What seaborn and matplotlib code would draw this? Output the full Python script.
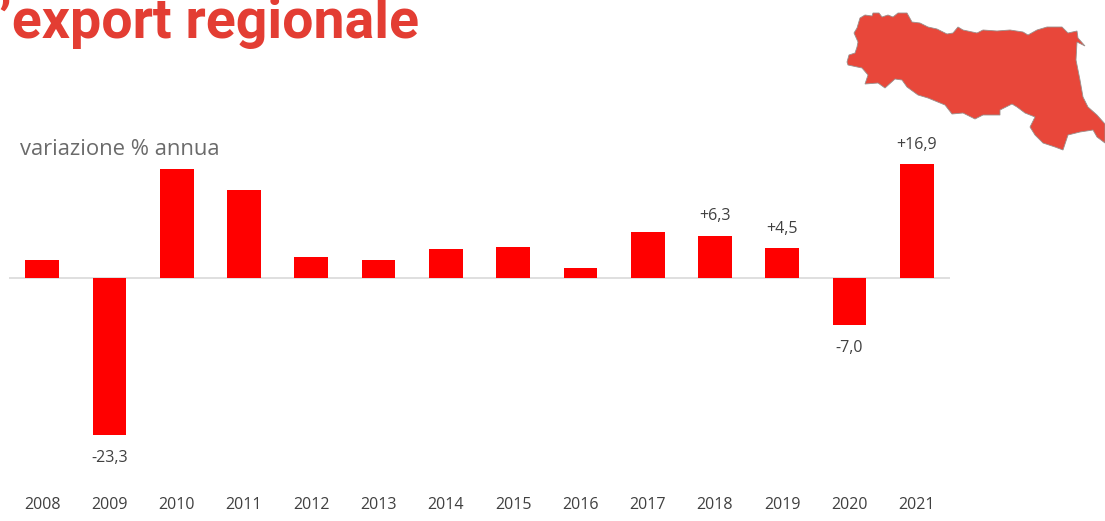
import matplotlib
matplotlib.use('Agg')
import matplotlib.pyplot as plt
import seaborn as sns
import pandas as pd

years = ['2008', '2009', '2010', '2011', '2012', '2013', '2014',
         '2015', '2016', '2017', '2018', '2019', '2020', '2021']
variation = [2.7, -23.3, 16.1, 13.0, 3.1, 2.7, 4.3,
             4.6, 1.5, 6.8, 6.3, 4.5, -7.0, 16.9]
labels_pos = ['', '', '', '', '', '', '',
              '', '', '', '+6,3', '+4,5', '', '+16,9']
labels_neg = ['', '-23,3', '', '', '', '', '',
              '', '', '', '', '', '-7,0', '']

# outline of the region (pixels)
map_x = [847, 849, 855, 857, 858, 854, 857, 860, 865, 872, 873, 879, 882, 888,
         893, 898, 907, 912, 920, 928, 937, 947, 953, 958, 963, 977, 983, 997,
         1010, 1023, 1028, 1037, 1047, 1062, 1068, 1077, 1078, 1085, 1077, 1076,
         1080, 1083, 1088, 1097, 1105, 1105, 1097, 1093, 1080, 1068, 1063, 1055,
         1043, 1035, 1030, 1035, 1025, 1017, 1012, 1000, 1000, 983, 975, 963,
         952, 945, 928, 918, 907, 902, 895, 885, 878, 865, 868, 862, 848]
map_y = [62, 55, 53, 47, 42, 33, 28, 18, 15, 16, 13, 13, 17, 15,
         17, 13, 13, 22, 23, 27, 29, 34, 33, 27, 30, 33, 30, 31,
         30, 32, 35, 30, 27, 27, 33, 31, 38, 46, 42, 60,
         80, 97, 107, 115, 124, 143, 137, 130, 132, 135, 150, 147,
         143, 135, 127, 117, 113, 107, 104, 110, 115, 115, 119, 113,
         114, 105, 98, 95, 87, 80, 79, 88, 83, 84, 75, 68, 65]

df = pd.DataFrame({'anno': years, 'variazione': variation})

sns.set_theme(style='white')
plt.rcParams['font.family'] = ['Open Sans', 'DejaVu Sans']

fig = plt.figure(figsize=(11.05, 5.21), dpi=100)
ax = fig.add_axes([8.5 / 1105, 1 - 480 / 521, 942 / 1105, 380 / 521])

sns.barplot(data=df, x='anno', y='variazione', color='#ff0000', width=0.5,
            saturation=1, linewidth=0, ax=ax)
ax.bar_label(ax.containers[0], labels=labels_pos, padding=8, fontsize=11.5,
             color='#404040')
ax.bar_label(ax.containers[0], labels=labels_neg, padding=10.5, fontsize=11.5,
             color='#404040')

ax.set_xlim(-0.5, 13.5)
ax.set_ylim(-29.9, 26.37)
ax.axhline(0, color='#d9d9d9', lw=1.2, zorder=0)
ax.set_xlabel('')
ax.set_ylabel('')
ax.set_yticks([])
ax.tick_params(axis='x', length=0, pad=12, labelsize=11.5, labelcolor='#404040')
sns.despine(ax=ax, left=True, bottom=True)
ax.patch.set_alpha(0)

# overlay in pixel coordinates for the title and the map
over = fig.add_axes([0, 0, 1, 1])
over.set_xlim(0, 1105)
over.set_ylim(521, 0)
over.axis('off')
over.fill(map_x, map_y, facecolor='#e8473a', edgecolor='#9a8f8c', lw=0.6)
over.text(-1, 38, '’export regionale', fontsize=40, fontweight='bold',
          family='Roboto', color='#e33d33', va='baseline', ha='left')
over.text(20, 155, 'variazione % annua', fontsize=15.8, color='#6b6b6b',
          family='Open Sans', va='baseline', ha='left')

fig.savefig('out.png', dpi=100)
